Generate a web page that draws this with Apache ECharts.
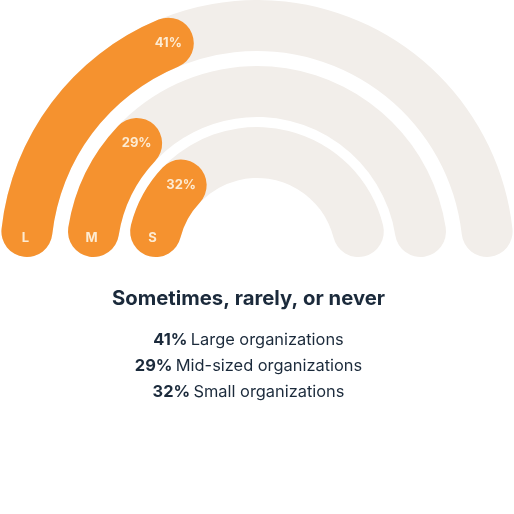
<!DOCTYPE html>
<html>
<head>
<meta charset="utf-8">
<script src="https://cdn.jsdelivr.net/npm/echarts@6/dist/echarts.min.js"></script>
<style>
html,body{margin:0;padding:0;background:#fff;}
#chart{width:514px;height:514px;}
</style>
</head>
<body>
<div id="chart"></div>
<script>
// Data
var ringLetters = ['L', 'M', 'S'];
var ringNames = ['Large organizations', 'Mid-sized organizations', 'Small organizations'];
var ringValues = [41, 29, 32];
var chartTitle = 'Sometimes, rarely, or never';

var chart = echarts.init(document.getElementById('chart'), null, {renderer: 'canvas'});

var CX = 257, CY = 257, BAND = 51;
var outerRadii = [257, 191, 130];
var ORANGE = '#F5922F', GRAY = '#F2EEEA', NAVY = '#1B2A3B', LABEL = '#FDEBD2';
var FONT = 'Inter, "Open Sans", sans-serif';
var TEXT_CX = 248.5;

var graphics = [];
var series = ringValues.map(function (v, i) {
  var R = outerRadii[i];
  var rm = R - BAND / 2;
  var c = Math.asin((BAND / 2) / rm) * 180 / Math.PI; // cap angle
  var a = (180 - 1.8 * v + c) * Math.PI / 180;          // end-cap centre angle
  graphics.push({
    type: 'text', z: 100,
    x: CX + rm * Math.cos(a), y: CY - rm * Math.sin(a),
    style: {text: v + '%', fill: LABEL, font: 'bold 13px ' + FONT, align: 'center', verticalAlign: 'middle'}
  });
  graphics.push({
    type: 'text', z: 100,
    x: CX - rm, y: CY - 19,
    style: {text: ringLetters[i], fill: LABEL, font: 'bold 13px ' + FONT, align: 'center', verticalAlign: 'middle'}
  });
  return {
    type: 'gauge',
    center: [CX, CY],
    radius: R,
    startAngle: 180 - c,
    endAngle: c,
    min: c / 0.9,
    max: 100,
    axisLine: {roundCap: true, lineStyle: {width: BAND, color: [[1, GRAY]]}},
    progress: {show: true, width: BAND, roundCap: true, itemStyle: {color: ORANGE}},
    pointer: {show: false},
    anchor: {show: false},
    axisTick: {show: false},
    splitLine: {show: false},
    axisLabel: {show: false},
    title: {show: false},
    detail: {show: false},
    animation: false,
    data: [{value: v, name: ringLetters[i]}]
  };
});

graphics.push({
  type: 'text', z: 100, x: TEXT_CX, y: 298.5,
  style: {text: chartTitle, fill: NAVY, font: 'bold 20.3px ' + FONT, align: 'center', verticalAlign: 'middle'}
});
ringValues.forEach(function (v, i) {
  graphics.push({
    type: 'text', z: 100, x: TEXT_CX, y: 340 + i * 26,
    style: {
      text: '{b|' + v + '%} {n|' + ringNames[i] + '}',
      align: 'center', verticalAlign: 'middle',
      rich: {
        b: {fill: NAVY, fontSize: 16.4, fontWeight: 'bold', fontFamily: FONT},
        n: {fill: NAVY, fontSize: 16.4, fontWeight: 'normal', fontFamily: FONT}
      }
    }
  });
});

chart.setOption({
  backgroundColor: '#ffffff',
  animation: false,
  graphic: graphics,
  series: series
});
</script>
</body>
</html>
